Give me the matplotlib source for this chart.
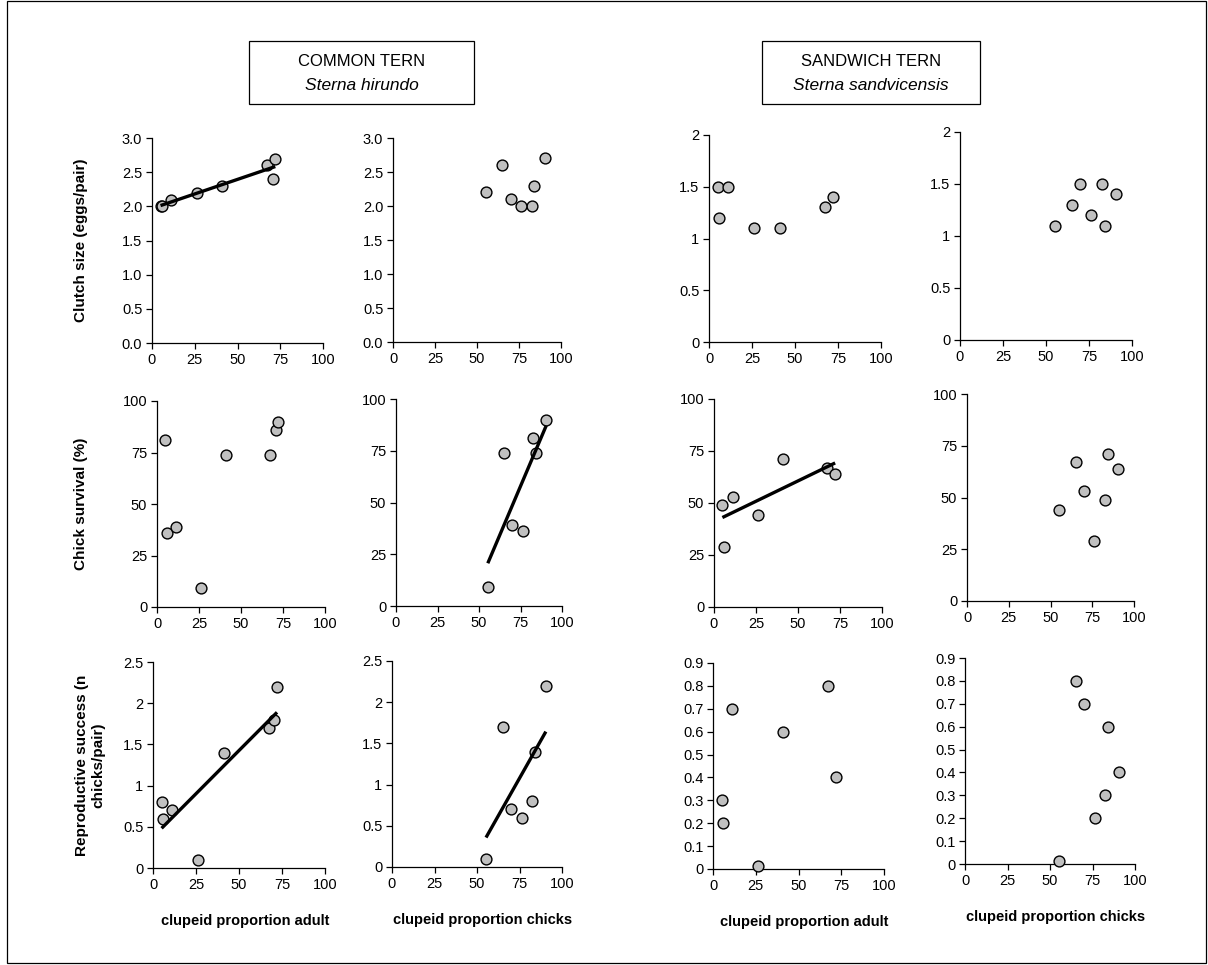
import numpy as np
import matplotlib
matplotlib.use("Agg")
import matplotlib.pyplot as plt
from matplotlib.patches import Rectangle
from matplotlib.ticker import FixedLocator, FixedFormatter

plt.rcParams['font.family'] = ['Liberation Sans', 'DejaVu Sans']

# ---------------- data ----------------
# Common tern (8 years)
ct_adult = [5.0, 5.7, 11.2, 26.4, 41.2, 67.4, 70.6, 72.1]
ct_chick = [82.5, 76.3, 70.0, 55.3, 84.2, 65.1, np.nan, 90.5]
ct_clutch = [2.0, 2.0, 2.1, 2.2, 2.3, 2.6, 2.4, 2.7]
ct_survival = [81, 36, 39, 9, 74, 74, 86, 90]
ct_repro = [0.8, 0.6, 0.7, 0.1, 1.4, 1.7, 1.8, 2.2]

# Sandwich tern (7 years)
st_adult = [5.0, 5.7, 11.2, 26.4, 41.2, 67.4, 72.1]
st_chick = [82.5, 76.3, 70.0, 55.3, 84.2, 65.1, 90.5]
st_clutch = [1.5, 1.2, 1.5, 1.1, 1.1, 1.3, 1.4]
st_survival = [49, 29, 53, 44, 71, 67, 64]
st_repro = [0.3, 0.2, 0.7, 0.015, 0.6, 0.8, 0.4]

x_ticks = [0, 25, 50, 75, 100]
ct_clutch_ticks = [0.0, 0.5, 1.0, 1.5, 2.0, 2.5, 3.0]
ct_clutch_labels = ["0.0", "0.5", "1.0", "1.5", "2.0", "2.5", "3.0"]
st_clutch_ticks = [0, 0.5, 1, 1.5, 2]
st_clutch_labels = ["0", "0.5", "1", "1.5", "2"]
surv_ticks = [0, 25, 50, 75, 100]
surv_labels = ["0", "25", "50", "75", "100"]
ct_repro_ticks = [0, 0.5, 1, 1.5, 2, 2.5]
ct_repro_labels = ["0", "0.5", "1", "1.5", "2", "2.5"]
st_repro_ticks = [0, 0.1, 0.2, 0.3, 0.4, 0.5, 0.6, 0.7, 0.8, 0.9]
st_repro_labels = ["0", "0.1", "0.2", "0.3", "0.4", "0.5", "0.6", "0.7", "0.8", "0.9"]

row_labels = ["Clutch size (eggs/pair)", "Chick survival (%)",
              "Reproductive success (n\nchicks/pair)"]
xlabel_adult = "clupeid proportion adult"
xlabel_chick = "clupeid proportion chicks"

# ---------------- layout ----------------
W, H = 1208, 965
fig = plt.figure(figsize=(W / 100, H / 100), dpi=100)
fig.patch.set_facecolor('white')

def fx(px):
    return px / W

def fy(py):
    return 1 - py / H

def add_ax(x0, x1, y0, y1):
    return fig.add_axes([fx(x0), fy(y1), fx(x1) - fx(x0), (y1 - y0) / H])

# pixel boxes (left, right, top, bottom)
boxes = [
    [(152, 323, 138, 343), (393, 561, 138, 342), (709, 881, 135, 342), (960, 1132, 132, 340)],
    [(157, 325, 401, 607), (396, 562, 399, 606), (714, 882, 399, 607), (967, 1134, 394, 601)],
    [(153, 325, 662, 868), (392, 562, 661, 867), (713, 884, 663, 869), (965, 1135, 658, 864)],
]

panels = [
    [(ct_adult, ct_clutch, True, ct_clutch_ticks, ct_clutch_labels, 3.0),
     (ct_chick, ct_clutch, False, ct_clutch_ticks, ct_clutch_labels, 3.0),
     (st_adult, st_clutch, False, st_clutch_ticks, st_clutch_labels, 2.0),
     (st_chick, st_clutch, False, st_clutch_ticks, st_clutch_labels, 2.0)],
    [(ct_adult, ct_survival, False, surv_ticks, surv_labels, 100),
     (ct_chick, ct_survival, True, surv_ticks, surv_labels, 100),
     (st_adult, st_survival, True, surv_ticks, surv_labels, 100),
     (st_chick, st_survival, False, surv_ticks, surv_labels, 100)],
    [(ct_adult, ct_repro, True, ct_repro_ticks, ct_repro_labels, 2.5),
     (ct_chick, ct_repro, True, ct_repro_ticks, ct_repro_labels, 2.5),
     (st_adult, st_repro, False, st_repro_ticks, st_repro_labels, 0.9),
     (st_chick, st_repro, False, st_repro_ticks, st_repro_labels, 0.9)],
]

for r in range(3):
    for c in range(4):
        xs, ys, reg, yt, ytl, ymax = panels[r][c]
        x0, x1, y0, y1 = boxes[r][c]
        ax = add_ax(x0, x1, y0, y1)
        xa = np.array(xs, dtype=float)
        ya = np.array(ys, dtype=float)
        m = ~np.isnan(xa) & ~np.isnan(ya)
        ax.plot(xa[m], ya[m], linestyle='none', marker='o', markersize=7.8,
                markerfacecolor='#c0c0c0', markeredgecolor='black',
                markeredgewidth=1.0, zorder=3, clip_on=False)
        if reg:
            k, b = np.polyfit(xa[m], ya[m], 1)
            xl = np.array([xa[m].min(), xa[m].max()])
            ax.plot(xl, k * xl + b, color='black', linewidth=2.4, zorder=4,
                    solid_capstyle='butt')
        ax.set_xlim(0, 100)
        ax.set_ylim(0, ymax)
        ax.xaxis.set_major_locator(FixedLocator(x_ticks))
        ax.xaxis.set_major_formatter(FixedFormatter([str(t) for t in x_ticks]))
        ax.yaxis.set_major_locator(FixedLocator(yt))
        ax.yaxis.set_major_formatter(FixedFormatter(ytl))
        for s in ['top', 'right']:
            ax.spines[s].set_visible(False)
        for s in ['left', 'bottom']:
            ax.spines[s].set_linewidth(0.9)
            ax.spines[s].set_color('black')
        ax.tick_params(direction='out', length=4, width=0.9, labelsize=10.5,
                       colors='black', pad=3)
        ax.patch.set_alpha(0)

        if c == 0:
            cy = (y0 + y1) / 2
            fig.text(fx(81 if r < 2 else 90), fy(cy), row_labels[r], rotation=90,
                     ha='center', va='center', fontsize=11, fontweight='bold',
                     multialignment='center', linespacing=1.25)
        if r == 2:
            lab = xlabel_adult if c % 2 == 0 else xlabel_chick
            fig.text(fx((x0 + x1) / 2 + 6), fy(y1 + 53), lab, ha='center', va='center',
                     fontsize=10.5, fontweight='bold')

# title boxes
for (bx0, bx1, name, latin) in [(249, 474, "COMMON TERN", "Sterna hirundo"),
                                (762, 980, "SANDWICH TERN", "Sterna sandvicensis")]:
    rect = Rectangle((fx(bx0), fy(104)), fx(bx1) - fx(bx0), (104 - 41) / H,
                     transform=fig.transFigure, fill=False, edgecolor='black',
                     linewidth=0.9)
    fig.patches.append(rect)
    cx = fx((bx0 + bx1) / 2)
    fig.text(cx, fy(61), name, ha='center', va='center', fontsize=12)
    fig.text(cx, fy(86), latin, ha='center', va='center', fontsize=12.5,
             style='italic')

# outer frame
frame = Rectangle((fx(7), fy(963)), fx(1206) - fx(7), (963 - 1) / H,
                  transform=fig.transFigure, fill=False, edgecolor='black',
                  linewidth=0.9)
fig.patches.append(frame)

fig.savefig("out.png", dpi=100, facecolor='white')
